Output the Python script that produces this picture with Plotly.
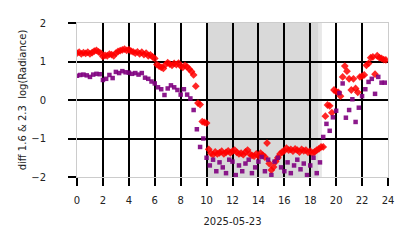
import numpy as np
import plotly.graph_objects as go

# red diamonds: 10-minute samples
red_hours = np.arange(0, 24, 1/6)
red_vals = [
    1.22, 1.24, 1.20, 1.23, 1.21, 1.24,
    1.20, 1.23, 1.27, 1.29, 1.25, 1.22,
    1.13, 1.16, 1.15, 1.19, 1.18, 1.15,
    1.22, 1.26, 1.28, 1.30, 1.32, 1.29,
    1.31, 1.27, 1.25, 1.22, 1.25, 1.20,
    1.24, 1.18, 1.22, 1.15, 1.17, 1.12,
    1.08, 0.92, 0.88, 0.85, 0.82, 0.92,
    0.97, 0.93, 0.90, 0.95, 0.92, 0.96,
    0.88, 0.85, 0.90, 0.86, 0.80, 0.74,
    0.65, 0.36, -0.08, -0.12, -0.56, -0.58,
    -0.60, -1.28, -1.38, -1.42, -1.35, -1.40,
    -1.37, -1.33, -1.40, -1.36, -1.32, -1.37,
    -1.33, -1.30, -1.36, -1.40, -1.38, -1.42,
    -1.35, -1.30, -1.40, -1.44, -1.46, -1.40,
    -1.45, -1.38, -1.43, -1.48, -1.12, -1.65,
    -1.82, -1.74, -1.60, -1.50, -1.40, -1.35,
    -1.32, -1.25, -1.30, -1.28, -1.33, -1.27,
    -1.30, -1.35, -1.28, -1.32, -1.30, -1.36,
    -1.33, -1.38, -1.35, -1.30, -1.27, -1.22,
    -1.22, -0.42, -0.13, -0.15, -0.33, 0.26,
    0.22, 0.20, 0.10, 0.60, 0.88, 0.75,
    0.55, 0.26, 0.55, 0.30, 0.20, 0.60,
    0.62, 0.65, 0.90, 0.95, 1.10, 1.12,
    0.67, 1.15, 1.10, 1.08, 1.05, 1.04,
]

# purple squares: 15-minute samples
purple_hours = np.arange(0, 24, 0.25)
purple_vals = [
    0.63, 0.65, 0.66, 0.64,
    0.60, 0.66, 0.68, 0.67,
    0.52, 0.55, 0.65, 0.57,
    0.73, 0.70, 0.75, 0.72,
    0.71, 0.68, 0.70, 0.66,
    0.70, 0.58, 0.55, 0.48,
    0.43, 0.33, 0.28, 0.13,
    0.30, 0.38, 0.33, 0.26,
    0.14, 0.28, 0.14, 0.04,
    -0.26, -0.76, -1.22, -1.00,
    -1.50, -1.70, -1.55, -1.85,
    -1.62, -1.75, -1.90, -1.55,
    -1.60, -1.95, -1.70, -1.85,
    -1.65, -1.55, -1.90, -1.75,
    -1.60, -1.48, -1.85, -1.55,
    -1.95, -1.60, -1.50, -1.75,
    -1.85, -1.62, -1.90, -1.70,
    -1.55, -1.80, -1.65, -1.95,
    -1.70, -1.50, -1.90, -1.62,
    -0.96, -0.62, -0.80, -0.45,
    -0.28, 0.18, 0.43, -0.46,
    -0.26, 0.02, -0.57, -0.20,
    0.10, 0.28, 0.47, 0.55,
    0.16, 0.60, 0.45, 0.45,
]

night_start, night_mid, night_end = 10.0, 18.65, 18.9
x_ticks = list(range(0, 25, 2))
y_ticks = [-2, -1, 0, 1, 2]

fig = go.Figure()
fig.add_trace(go.Scatter(x=red_hours, y=red_vals, mode="markers",
                         marker=dict(symbol="diamond", size=6, color="#ff0000", opacity=0.85,
                                     line=dict(width=0)),
                         showlegend=False))
fig.add_trace(go.Scatter(x=purple_hours, y=purple_vals, mode="markers",
                         marker=dict(symbol="square", size=4.5, color="#800080", opacity=0.9,
                                     line=dict(width=0)),
                         showlegend=False))

fig.add_vrect(x0=night_start, x1=night_mid, fillcolor="#d9d9d9", line_width=0, layer="below")
fig.add_vrect(x0=night_mid, x1=night_end, fillcolor="#e8e8e8", line_width=0, layer="below")

font = "DejaVu Sans"
fig.update_layout(
    width=414, height=248,
    margin=dict(l=77, r=26, t=23, b=71),
    paper_bgcolor="white", plot_bgcolor="white",
    font=dict(family=font, size=10, color="#222222"),
)
fig.update_xaxes(range=[0, 24], tickvals=x_ticks, showgrid=True, gridcolor="black", gridwidth=2,
                 ticks="outside", ticklen=8, tickwidth=2, tickcolor="black", ticklabelstandoff=6,
                 showline=True, linecolor="#cccccc", linewidth=1, mirror=True, zeroline=False,
                 title=dict(text="2025-05-23", font=dict(size=10), standoff=12),
                 tickfont=dict(size=10))
fig.update_yaxes(range=[-2, 2], tickvals=y_ticks, showgrid=True, gridcolor="black", gridwidth=2,
                 ticks="outside", ticklen=8, tickwidth=2, tickcolor="black", ticklabelstandoff=20,
                 showline=True, linecolor="#cccccc", linewidth=1, mirror=True, zeroline=False,
                 title=dict(text="diff 1.6 &amp; 2.3\u00a0 log(Radiance)", font=dict(size=10), standoff=2),
                 tickfont=dict(size=10))

fig.write_html("out.html")
